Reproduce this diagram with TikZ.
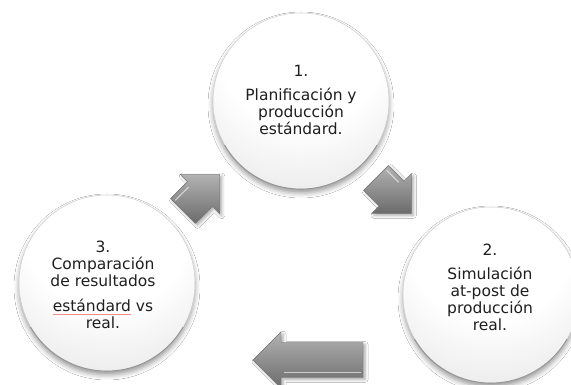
\documentclass[tikz,border=0pt]{standalone}
\usepackage{fontspec}
\setmainfont{DejaVu Sans}
\usetikzlibrary{shadows.blur}
\pgfdeclareradialshading{bubble}{\pgfpoint{0bp}{22bp}}{color(0bp)=(white); color(24bp)=(white); color(45bp)=(black!10); color(60bp)=(black!19); color(72bp)=(black!25); color(100bp)=(black!25)}
\newcommand\spellmark[1]{\setbox0\hbox{#1}\rlap{\raisebox{-3pt}{\textcolor{red!45}{\rule{\wd0}{0.4pt}}}}#1}
\begin{document}
\begin{tikzpicture}[x=1pt,y=1pt,
  bubble/.style={circle, minimum size=176pt, inner sep=0pt, shade, shading=bubble, draw=black!20, line width=0.5pt,
    blur shadow={shadow xshift=0pt, shadow yshift=-4pt, shadow blur radius=5pt, shadow opacity=40}},
  rim/.style={draw=black!42, line width=0.9pt},
  bubbletext/.style={align=center, font=\fontsize{15.5}{16.7}\selectfont, text=black!88},
  arrowfill/.style={top color=black!30, bottom color=black!58, draw=black!55, line width=0.4pt,
    blur shadow={shadow xshift=2pt, shadow yshift=-2pt, shadow blur radius=3pt, shadow opacity=35}},
  pics/blockarrow/.style={code={
    \path[arrowfill] (0,-17.5) -- ({#1-28},-17.5) -- ({#1-28},-28) -- (#1,0) -- ({#1-28},28) -- ({#1-28},17.5) -- (0,17.5) -- cycle;
    \draw[white, opacity=0.6, line width=1pt] (2,13) -- ({#1-31},13);
  }}
]
\clip (0,0) rectangle (571,385);
\fill[white] (0,0) rectangle (571,385);
% circles
\node[bubble] (c1) at (301,284) {};
\node[bubble] (c2) at (491,90) {};
\node[bubble] (c3) at (107,102) {};
\draw[rim] (c1.210) arc (210:330:88);
\draw[rim] (c2.210) arc (210:330:88);
\draw[rim] (c3.210) arc (210:330:88);
% arrows
\pic[rotate=45] (a1) at (183,174) {blockarrow=52};
\pic[rotate=-45] (a2) at (376,207) {blockarrow=50};
\pic[rotate=180] (a3) at (363,25) {blockarrow=110};
% texts
\node[bubbletext] (t1) at ([yshift=1pt]c1.center) {1.\\[7pt]Planificación y\\producción\\estándard.};
\node[bubbletext] (t2) at ([xshift=-1pt,yshift=8pt]c2.center) {2.\\[8pt]Simulación\\at-post de\\producción\\real.};
\node[bubbletext] (t3) at ([xshift=-4pt,yshift=-2pt]c3.center) {3.\\Comparación\\de resultados\\[9pt]\spellmark{estándard} vs\\real.};
\end{tikzpicture}
\end{document}
